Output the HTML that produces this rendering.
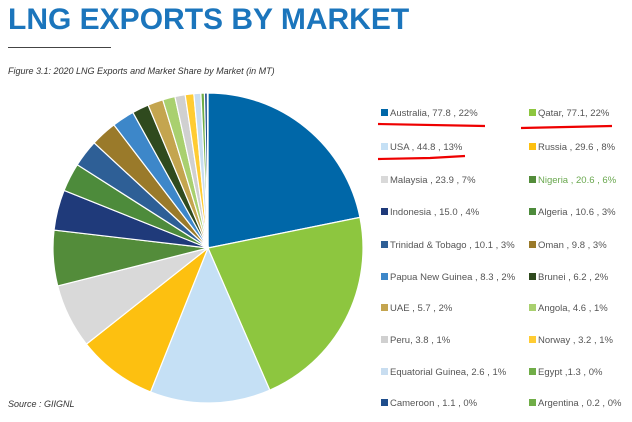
<!DOCTYPE html>
<html><head><meta charset="utf-8"><style>
body{margin:0;width:632px;height:422px;background:#fff;overflow:hidden;font-family:"Liberation Sans",sans-serif;position:relative}
.t{position:absolute;left:8px;top:3px;font-size:30px;font-weight:bold;color:#1b75bc;letter-spacing:0px}
.ln{position:absolute;left:8px;top:47px;width:103px;height:1px;background:#444}
.cap{position:absolute;left:8px;top:66px;font-size:9px;font-style:italic;color:#333}
.src{position:absolute;left:8px;top:399px;font-size:9px;font-style:italic;color:#333}
.lg{position:absolute;font-size:9.5px;color:#555;white-space:nowrap;line-height:12px}
.lg i{display:inline-block;width:7px;height:7px;margin-right:2px;vertical-align:0px}
</style></head><body>
<div class="t">LNG EXPORTS BY MARKET</div>
<div class="ln"></div>
<div class="cap">Figure 3.1: 2020 LNG Exports and Market Share by Market (in MT)</div>
<div class="src">Source : GIIGNL</div>
<svg id="pie" width="632" height="422" style="position:absolute;left:0;top:0"></svg>
<div id="leg"></div>
<script>
var d=[["Australia, 77.8 , 22%",77.8,"#0067a8"],["Qatar, 77.1, 22%",77.1,"#8dc63f"],["USA , 44.8 , 13%",44.8,"#c5e0f5"],["Russia , 29.6 , 8%",29.6,"#fdc010"],["Malaysia , 23.9 , 7%",23.9,"#d9d9d9"],["Nigeria , 20.6 , 6%",20.6,"#538c3a"],["Indonesia , 15.0 , 4%",15.0,"#1f3a7a"],["Algeria , 10.6 , 3%",10.6,"#4d8b3b"],["Trinidad & Tobago , 10.1 , 3%",10.1,"#2e5f96"],["Oman , 9.8 , 3%",9.8,"#9a7a2a"],["Papua New Guinea , 8.3 , 2%",8.3,"#3d87c9"],["Brunei , 6.2 , 2%",6.2,"#2f4a1e"],["UAE , 5.7 , 2%",5.7,"#c4a54f"],["Angola, 4.6 , 1%",4.6,"#a9d06f"],["Peru, 3.8 , 1%",3.8,"#d0d0d0"],["Norway , 3.2 , 1%",3.2,"#ffcc33"],["Equatorial Guinea, 2.6 , 1%",2.6,"#c8ddf0"],["Egypt ,1.3 , 0%",1.3,"#70ad47"],["Cameroon , 1.1 , 0%",1.1,"#1f4e8c"],["Argentina , 0.2 , 0%",0.2,"#70ad47"]];
var tot=0;d.forEach(function(x){tot+=x[1]});
var cx=208,cy=248,r=155,a=0,s="";
d.forEach(function(x){var b=a+x[1]/tot*2*Math.PI;
var x1=cx+r*Math.sin(a),y1=cy-r*Math.cos(a),x2=cx+r*Math.sin(b),y2=cy-r*Math.cos(b);
s+='<path d="M'+cx+','+cy+'L'+x1+','+y1+'A'+r+','+r+' 0 '+((b-a)>Math.PI?1:0)+',1 '+x2+','+y2+'Z" fill="'+x[2]+'" stroke="#fff" stroke-width="1.2"/>';a=b;});
s+='<path d="M378,124 L485,126" stroke="#e00" stroke-width="2.2"/><path d="M521,128 L612,126" stroke="#e00" stroke-width="2.2"/><path d="M378,159 L430,158 L465,156" stroke="#e00" stroke-width="2.2"/>';
document.getElementById('pie').innerHTML=s;
var ys=[108,142,175,207,240,272,303,335,367,398],h="";
d.forEach(function(x,i){var c=i%2,row=(i-c)/2;var col=(i==5)?"#6aa84f":"#555";
h+='<div class="lg" style="left:'+(c?529:381)+'px;top:'+ys[row]+'px;color:'+col+'"><i style="background:'+x[2]+'"></i>'+x[0]+'</div>';});
document.getElementById('leg').innerHTML=h;
</script>
</body></html>
